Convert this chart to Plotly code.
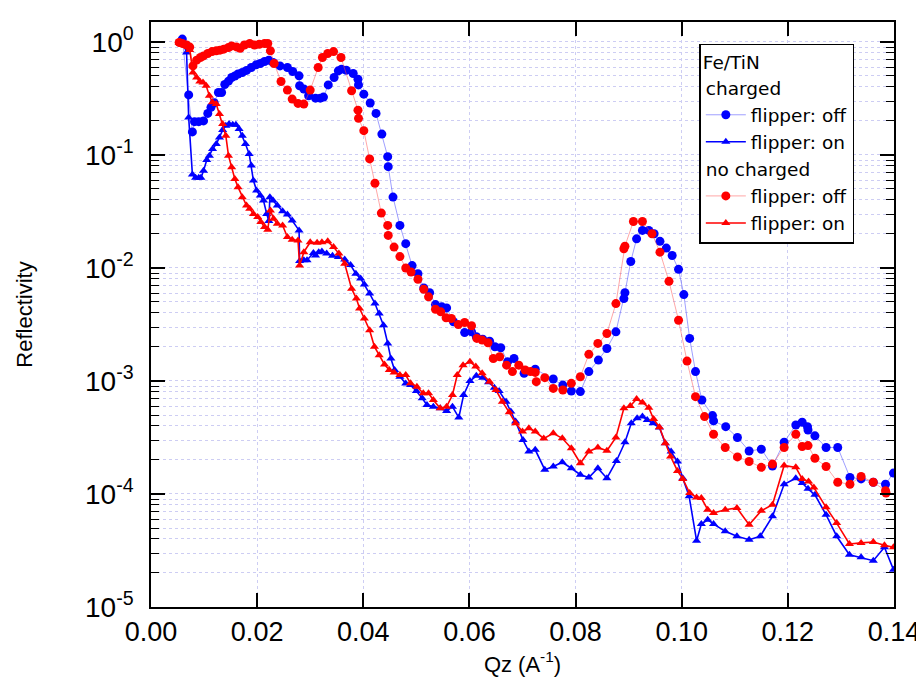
import plotly.graph_objects as go

# ---------------- data ----------------
q_charged_off = [0.0059, 0.0071, 0.0078, 0.0082, 0.0090, 0.0099, 0.0107, 0.0113, 0.0119, 0.0127,
                 0.0133, 0.0139, 0.0146, 0.0152, 0.0158, 0.0164, 0.0172, 0.0180, 0.0189, 0.0198,
                 0.0206, 0.0214, 0.0222, 0.0230, 0.0243, 0.0257, 0.0267, 0.0279, 0.0280, 0.0288,
                 0.0297, 0.0310, 0.0319, 0.0325, 0.0334, 0.0345, 0.0353, 0.0359, 0.0368, 0.0381,
                 0.0390, 0.0391, 0.0401, 0.0413, 0.0424, 0.0435, 0.0446, 0.0447, 0.0456, 0.0469,
                 0.0480, 0.0492, 0.0503, 0.0514, 0.0525, 0.0536, 0.0548, 0.0557, 0.0570, 0.0591,
                 0.0604, 0.0613, 0.0625, 0.0638, 0.0648, 0.0659, 0.0672, 0.0684, 0.0703, 0.0724,
                 0.0758, 0.0776, 0.0792, 0.0809, 0.0825, 0.0843, 0.0859, 0.0876, 0.0891, 0.0893,
                 0.0904, 0.0915, 0.0926, 0.0938, 0.0948, 0.0959, 0.0971, 0.0982, 0.0994, 0.1004,
                 0.1015, 0.1026, 0.1038, 0.1058, 0.1060, 0.1083, 0.1105, 0.1127, 0.1150, 0.1171,
                 0.1193, 0.1215, 0.1227, 0.1237, 0.1238, 0.1251, 0.1272, 0.1294, 0.1317, 0.1338,
                 0.1361, 0.1384, 0.1399]
r_charged_off = [1.06, 0.34, 0.16, 0.197, 0.197, 0.20, 0.233, 0.264, 0.29, 0.357,
                 0.357, 0.42, 0.45, 0.485, 0.50, 0.52, 0.537, 0.56, 0.594, 0.627,
                 0.644, 0.671, 0.69, 0.658, 0.614, 0.594, 0.548, 0.501, 0.41, 0.383,
                 0.334, 0.318, 0.318, 0.325, 0.417, 0.485, 0.555, 0.574, 0.562, 0.526,
                 0.468, 0.417, 0.345, 0.288, 0.233, 0.153, 0.0966, 0.0788, 0.0424, 0.0238,
                 0.0164, 0.0105, 0.0089, 0.00665, 0.00605, 0.00474, 0.00453, 0.00443, 0.00334, 0.00268,
                 0.00272, 0.00246, 0.00234, 0.00225, 0.00201, 0.00197, 0.00148, 0.00158, 0.00117, 0.00127,
                 0.00104, 0.00092, 0.000814, 0.000805, 0.00121, 0.00153, 0.00194, 0.00272, 0.00536, 0.00605,
                 0.0114, 0.0181, 0.0215, 0.0215, 0.0201, 0.0172, 0.015, 0.0129, 0.00972, 0.00581,
                 0.00238, 0.00121, 0.000678, 0.000494, 0.000443, 0.000394, 0.000316, 0.00024, 0.000249, 0.000177,
                 0.000287, 0.000408, 0.000431, 0.000394, 0.000368, 0.000327, 0.000258, 0.000258, 0.00014, 0.000136,
                 0.000127, 0.000122, 0.000153]

q_charged_on = [0.0059, 0.0067, 0.0071, 0.0078, 0.0084, 0.0090, 0.0094, 0.0099, 0.0105, 0.0110,
                0.0116, 0.0123, 0.0129, 0.0135, 0.0141, 0.0147, 0.0154, 0.0160, 0.0166, 0.0172,
                0.0178, 0.0185, 0.0189, 0.0193, 0.0199, 0.0206, 0.0212, 0.0218, 0.0222, 0.0224,
                0.0230, 0.0238, 0.0248, 0.0257, 0.0266, 0.0279, 0.0280, 0.0288, 0.0294, 0.0306,
                0.0310, 0.0316, 0.0322, 0.0331, 0.0342, 0.0353, 0.0365, 0.0376, 0.0386, 0.0395,
                0.0402, 0.0412, 0.0422, 0.0430, 0.0438, 0.0446, 0.0452, 0.0459, 0.0469, 0.0480,
                0.0489, 0.0500, 0.0511, 0.0520, 0.0532, 0.0545, 0.0557, 0.0568, 0.0580, 0.0589,
                0.0601, 0.0613, 0.0625, 0.0636, 0.0647, 0.0656, 0.0669, 0.0678, 0.0687, 0.0701,
                0.0712, 0.0724, 0.0742, 0.0758, 0.0775, 0.0792, 0.0809, 0.0825, 0.0842, 0.0859,
                0.0877, 0.0893, 0.0905, 0.0916, 0.0926, 0.0935, 0.0946, 0.0958, 0.0969, 0.0980,
                0.0992, 0.1002, 0.1014, 0.1028, 0.1037, 0.1049, 0.1060, 0.1082, 0.1104, 0.1127,
                0.1148, 0.1171, 0.1193, 0.1215, 0.1227, 0.1238, 0.1251, 0.1272, 0.1292, 0.1316,
                0.1338, 0.1361, 0.1382, 0.1399]
r_charged_on = [1.03, 0.806, 0.215, 0.067, 0.0627, 0.0627, 0.0627, 0.0726, 0.0903, 0.0986,
                0.113, 0.125, 0.143, 0.166, 0.181, 0.188, 0.185, 0.185, 0.17, 0.148,
                0.125, 0.102, 0.0805, 0.0593, 0.0484, 0.0438, 0.0395, 0.0301, 0.026, 0.0423,
                0.0395, 0.0357, 0.0318, 0.0297, 0.0263, 0.0215, 0.0115, 0.0117, 0.0117, 0.0136,
                0.0129, 0.0138, 0.014, 0.0134, 0.0128, 0.0125, 0.0119, 0.0106, 0.0089, 0.00805,
                0.00713, 0.00593, 0.00484, 0.00395, 0.00311, 0.00215, 0.00158, 0.00125, 0.00109, 0.00095,
                0.00092, 0.000815, 0.000702, 0.000612, 0.000593, 0.000573, 0.000542, 0.000593, 0.000474, 0.000751,
                0.000998, 0.00111, 0.00107, 0.000972, 0.000873, 0.000815, 0.000656, 0.000536, 0.000438, 0.0003,
                0.000238, 0.000246, 0.000164, 0.000175, 0.000191, 0.000169, 0.000148, 0.00014, 0.000169, 0.000138,
                0.000196, 0.000287, 0.000423, 0.000468, 0.000484, 0.000452, 0.000423, 0.000387, 0.000281, 0.000238,
                0.000194, 0.000138, 0.0000953, 0.0000386, 0.0000542, 0.0000592, 0.0000542, 0.0000467, 0.0000423, 0.0000394,
                0.0000423, 0.0000634, 0.000122, 0.000138, 0.000125, 0.000111, 0.0000984, 0.0000655, 0.0000423, 0.000029,
                0.0000275, 0.0000257, 0.0000338, 0.0000214]

q_nocharged_off = [0.0053, 0.0059, 0.0067, 0.0073, 0.0079, 0.0086, 0.0093, 0.0099, 0.0107, 0.0115,
                   0.0123, 0.0130, 0.0137, 0.0146, 0.0152, 0.0161, 0.0168, 0.0176, 0.0186, 0.0195,
                   0.0204, 0.0214, 0.0220, 0.0225, 0.0232, 0.0245, 0.0257, 0.0266, 0.0277, 0.0288,
                   0.0300, 0.0315, 0.0323, 0.0333, 0.0344, 0.0358, 0.0378, 0.0390, 0.0391, 0.0401,
                   0.0412, 0.0422, 0.0434, 0.0446, 0.0447, 0.0458, 0.0469, 0.0480, 0.0490, 0.0503,
                   0.0514, 0.0523, 0.0536, 0.0546, 0.0556, 0.0566, 0.0579, 0.0591, 0.0604, 0.0614,
                   0.0624, 0.0635, 0.0645, 0.0657, 0.0670, 0.0681, 0.0693, 0.0705, 0.0715, 0.0724,
                   0.0726, 0.0742, 0.0758, 0.0776, 0.0792, 0.0809, 0.0825, 0.0842, 0.0859, 0.0876,
                   0.0891, 0.0893, 0.0909, 0.0926, 0.0944, 0.0959, 0.0976, 0.0994, 0.1010, 0.1026,
                   0.1043, 0.1060, 0.1082, 0.1105, 0.1127, 0.1150, 0.1171, 0.1193, 0.1215, 0.1227,
                   0.1238, 0.1251, 0.1272, 0.1294, 0.1317, 0.1338, 0.1361, 0.1384, 0.1385]
r_nocharged_off = [0.99, 0.97, 0.94, 0.90, 0.614, 0.69, 0.728, 0.752, 0.79, 0.822,
                   0.834, 0.846, 0.863, 0.893, 0.922, 0.904, 0.88, 0.94, 0.968, 0.94,
                   0.955, 0.968, 0.968, 0.834, 0.644, 0.447, 0.375, 0.312, 0.286, 0.282,
                   0.375, 0.594, 0.728, 0.79, 0.822, 0.728, 0.37, 0.249, 0.211, 0.164,
                   0.0922, 0.0562, 0.0306, 0.0238, 0.0194, 0.0153, 0.0126, 0.0100, 0.00922, 0.00794,
                   0.00647, 0.00555, 0.00431, 0.00409, 0.00362, 0.00357, 0.00316, 0.00329, 0.00308, 0.00238,
                   0.0023, 0.00218, 0.00158, 0.00164, 0.00138, 0.00121, 0.00138, 0.00125, 0.00121, 0.00119,
                   0.000986, 0.00107, 0.00086, 0.000832, 0.000953, 0.00109, 0.00172, 0.00215, 0.00263, 0.00484,
                   0.0148, 0.0156, 0.0258, 0.0258, 0.0201, 0.0138, 0.00762, 0.00345, 0.0015, 0.000727,
                   0.000484, 0.000338, 0.000258, 0.000213, 0.000194, 0.000172, 0.000184, 0.000258, 0.000338, 0.000263,
                   0.000268, 0.000207, 0.000175, 0.000127, 0.000122, 0.000143, 0.000127, 0.000107, 0.000102]

q_nocharged_on = [0.0053, 0.0059, 0.0066, 0.0073, 0.0079, 0.0086, 0.0092, 0.0098, 0.0104, 0.0110,
                  0.0116, 0.0123, 0.0129, 0.0135, 0.0141, 0.0146, 0.0152, 0.0158, 0.0164, 0.0172,
                  0.0180, 0.0186, 0.0193, 0.0201, 0.0207, 0.0214, 0.0220, 0.0225, 0.0231, 0.0238,
                  0.0248, 0.0257, 0.0266, 0.0277, 0.0280, 0.0288, 0.0300, 0.0313, 0.0322, 0.0333,
                  0.0344, 0.0354, 0.0365, 0.0378, 0.0387, 0.0393, 0.0402, 0.0412, 0.0421, 0.0430,
                  0.0440, 0.0449, 0.0458, 0.0469, 0.0480, 0.0489, 0.0501, 0.0513, 0.0523, 0.0532,
                  0.0545, 0.0557, 0.0568, 0.0577, 0.0588, 0.0601, 0.0612, 0.0624, 0.0638, 0.0650,
                  0.0662, 0.0675, 0.0687, 0.0700, 0.0712, 0.0724, 0.0740, 0.0758, 0.0775, 0.0792,
                  0.0809, 0.0825, 0.0842, 0.0859, 0.0876, 0.0891, 0.0903, 0.0915, 0.0926, 0.0938,
                  0.0947, 0.0958, 0.0969, 0.0979, 0.0992, 0.1002, 0.1015, 0.1028, 0.1037, 0.1049,
                  0.1060, 0.1082, 0.1104, 0.1127, 0.1150, 0.1171, 0.1193, 0.1215, 0.1227, 0.1239,
                  0.1249, 0.1272, 0.1292, 0.1316, 0.1338, 0.1361, 0.1382, 0.1399]
r_nocharged_on = [0.98, 0.95, 0.92, 0.85, 0.537, 0.485, 0.447, 0.438, 0.409, 0.334,
                  0.292, 0.282, 0.23, 0.188, 0.148, 0.0986, 0.0778, 0.0614, 0.0519, 0.0423,
                  0.0357, 0.0334, 0.0301, 0.0282, 0.0255, 0.023, 0.0218, 0.0323, 0.0272, 0.0246,
                  0.0238, 0.0188, 0.0178, 0.0175, 0.0105, 0.0138, 0.0169, 0.0167, 0.0169, 0.0172,
                  0.0153, 0.0134, 0.0109, 0.00656, 0.00536, 0.00438, 0.00357, 0.00281, 0.00201, 0.00169,
                  0.0014, 0.00125, 0.00119, 0.00113, 0.00113, 0.000953, 0.000891, 0.000778, 0.000778, 0.000678,
                  0.000573, 0.000593, 0.000751, 0.00113, 0.00138, 0.00148, 0.00134, 0.00117, 0.000986, 0.000832,
                  0.000656, 0.000528, 0.000423, 0.000357, 0.000382, 0.000357, 0.00031, 0.000344, 0.000311, 0.000254,
                  0.000187, 0.000238, 0.000258, 0.000241, 0.000316, 0.000573, 0.0006, 0.000692, 0.000645, 0.00058,
                  0.00046, 0.00039, 0.000281, 0.000215, 0.00016, 0.000136, 0.000102, 0.0000933, 0.000092, 0.0000726,
                  0.0000679, 0.0000726, 0.0000752, 0.0000535, 0.0000711, 0.0000804, 0.000179, 0.000172, 0.000136, 0.000129,
                  0.000114, 0.0000762, 0.0000553, 0.0000361, 0.0000369, 0.0000376, 0.0000352, 0.0000338]

x_ticks = [0.00, 0.02, 0.04, 0.06, 0.08, 0.10, 0.12, 0.14]
x_ticklabels = ["0.00", "0.02", "0.04", "0.06", "0.08", "0.10", "0.12", "0.14"]
y_ticks = [1e-5, 1e-4, 1e-3, 1e-2, 1e-1, 1e0]
y_ticklabels = ["10<sup>-5</sup>", "10<sup>-4</sup>", "10<sup>-3</sup>",
                "10<sup>-2</sup>", "10<sup>-1</sup>", "10<sup>0</sup>"]

# ---------------- figure ----------------
BLUE = "#0000ff"
RED = "#ff0000"
FONT = "Liberation Sans"
LEGFONT = "DejaVu Sans"

fig = go.Figure()

fig.add_trace(go.Scatter(
    x=q_charged_off, y=r_charged_off, mode="lines+markers", name="flipper: off",
    legendgroup="charged", legendgrouptitle_text="charged",
    line=dict(color="rgba(80,80,255,0.55)", width=1),
    marker=dict(symbol="circle", size=9, color=BLUE)))
fig.add_trace(go.Scatter(
    x=q_charged_on, y=r_charged_on, mode="lines+markers", name="flipper: on",
    legendgroup="charged",
    line=dict(color=BLUE, width=1.6),
    marker=dict(symbol="triangle-up", size=8, color=BLUE)))
fig.add_trace(go.Scatter(
    x=q_nocharged_off, y=r_nocharged_off, mode="lines+markers", name="flipper: off",
    legendgroup="nocharged", legendgrouptitle_text="no charged",
    line=dict(color="rgba(255,80,80,0.5)", width=1),
    marker=dict(symbol="circle", size=9, color=RED)))
fig.add_trace(go.Scatter(
    x=q_nocharged_on, y=r_nocharged_on, mode="lines+markers", name="flipper: on",
    legendgroup="nocharged",
    line=dict(color=RED, width=1.6),
    marker=dict(symbol="triangle-up", size=8, color=RED)))

GRID = "#cdcdf3"

fig.update_layout(
    width=924, height=690,
    margin=dict(l=143, r=27, t=13, b=91),
    paper_bgcolor="white", plot_bgcolor="white",
    font=dict(family=FONT, color="black", size=20),
    showlegend=True,
    legend=dict(
        x=0.738, y=0.963, xanchor="left", yanchor="top",
        bgcolor="white", bordercolor="black", borderwidth=1.5,
        title=dict(text="Fe/TiN", font=dict(size=18.5, family=LEGFONT)),
        font=dict(size=18.5, family=LEGFONT),
        grouptitlefont=dict(size=18.5, family=LEGFONT),
        tracegroupgap=0, itemwidth=40,
    ),
    xaxis=dict(
        range=[0, 0.14], tickvals=x_ticks, ticktext=x_ticklabels,
        ticks="inside", ticklen=14, tickwidth=1.5, tickcolor="black",
        showline=True, linecolor="black", linewidth=1.5, mirror="ticks",
        showgrid=True, gridcolor=GRID, griddash="dot", gridwidth=1,
        zeroline=False,
        tickfont=dict(size=27, family=FONT),
        title=dict(text="Qz (A<sup>-1</sup>)", font=dict(size=22, family=FONT), standoff=10),
    ),
    yaxis=dict(
        type="log", range=[-5, 0.1765], tickvals=y_ticks, ticktext=y_ticklabels,
        ticks="inside", ticklen=14, tickwidth=1.5, tickcolor="black",
        showline=True, linecolor="black", linewidth=1.5, mirror="ticks",
        showgrid=True, gridcolor=GRID, griddash="dot", gridwidth=1,
        zeroline=False, ticklabelstandoff=10,
        minor=dict(ticks="inside", ticklen=8, tickwidth=1.2, tickcolor="black",
                   dtick="D1", showgrid=True, gridcolor=GRID, griddash="dot", gridwidth=1),
        tickfont=dict(size=28, family=FONT),
        title=dict(text="Reflectivity", font=dict(size=22, family=FONT), standoff=46),
    ),
)

fig.write_html("out.html")
